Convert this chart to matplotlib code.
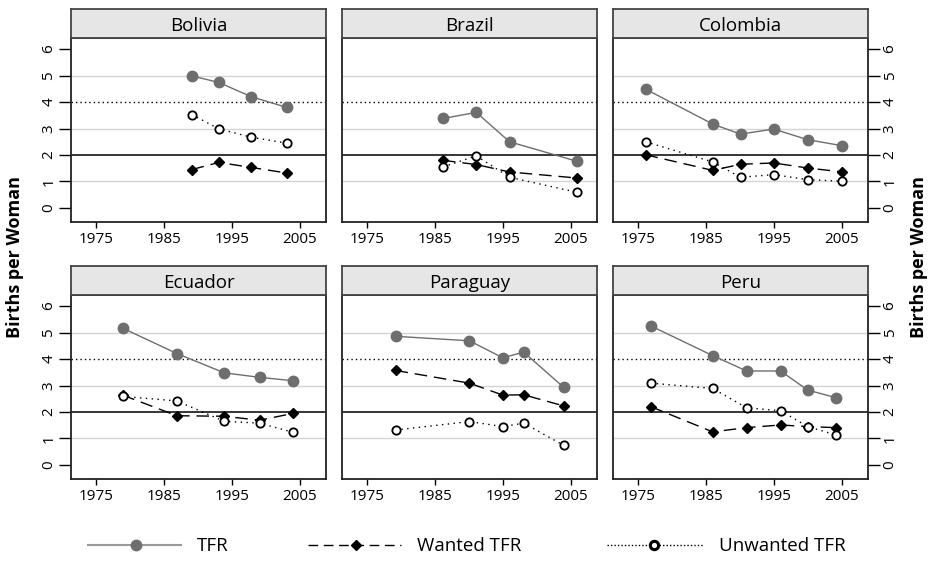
import matplotlib
matplotlib.use("Agg")
import matplotlib.pyplot as plt
from matplotlib.lines import Line2D

plt.rcParams['font.family'] = ['Open Sans', 'DejaVu Sans']

countries = ["Bolivia", "Brazil", "Colombia", "Ecuador", "Paraguay", "Peru"]

years = {
    "Bolivia":  [1989.1, 1993.1, 1997.9, 2003.1],
    "Brazil":   [1986.2, 1991.1, 1996.0, 2006.0],
    "Colombia": [1976.1, 1986.0, 1990.1, 1995.0, 2000.0, 2005.1],
    "Ecuador":  [1978.9, 1986.9, 1993.9, 1999.1, 2004.1],
    "Paraguay": [1979.2, 1990.1, 1995.0, 1998.1, 2004.0],
    "Peru":     [1976.9, 1986.0, 1991.0, 1996.0, 2000.0, 2004.2],
}
tfr = {
    "Bolivia":  [4.99, 4.74, 4.20, 3.80],
    "Brazil":   [3.38, 3.61, 2.50, 1.76],
    "Colombia": [4.49, 3.17, 2.79, 2.98, 2.58, 2.35],
    "Ecuador":  [5.17, 4.21, 3.48, 3.31, 3.18],
    "Paraguay": [4.86, 4.69, 4.05, 4.26, 2.93],
    "Peru":     [5.25, 4.13, 3.55, 3.55, 2.83, 2.54],
}
wanted = {
    "Bolivia":  [1.45, 1.72, 1.53, 1.32],
    "Brazil":   [1.80, 1.64, 1.36, 1.13],
    "Colombia": [2.01, 1.42, 1.65, 1.70, 1.51, 1.36],
    "Ecuador":  [2.64, 1.86, 1.84, 1.69, 1.95],
    "Paraguay": [3.57, 3.09, 2.64, 2.65, 2.23],
    "Peru":     [2.20, 1.25, 1.41, 1.51, 1.45, 1.41],
}
unwanted = {
    "Bolivia":  [3.53, 2.99, 2.67, 2.45],
    "Brazil":   [1.55, 1.97, 1.16, 0.59],
    "Colombia": [2.50, 1.74, 1.16, 1.26, 1.07, 1.01],
    "Ecuador":  [2.59, 2.42, 1.65, 1.58, 1.23],
    "Paraguay": [1.32, 1.64, 1.45, 1.58, 0.74],
    "Peru":     [3.09, 2.89, 2.16, 2.05, 1.45, 1.13],
}
xticks = [1975, 1985, 1995, 2005]
yticks = [0, 1, 2, 3, 4, 5, 6]
legend_labels = ["TFR", "Wanted TFR", "Unwanted TFR"]

W, H = 930, 567
fig = plt.figure(figsize=(W / 100, H / 100), dpi=100)

col_x = [71, 342, 613]
col_w = 255
row_strip_top = [9, 266]
strip_h = 29
plot_h = 184

tfr_color = "#6e6e6e"
frame_color = "#222222"
wanted_ls = (0, (9, 5))
unwanted_ls = (0, (1, 3.2))

for i, c in enumerate(countries):
    r, k = divmod(i, 3)
    x0 = col_x[k]
    ytop = row_strip_top[r] + strip_h
    ax = fig.add_axes([x0 / W, 1 - (ytop + plot_h) / H, col_w / W, plot_h / H])
    ax.set_xlim(1971.3, 2008.9)
    ax.set_ylim(-0.53, 6.42)
    for g in [1, 3, 5]:
        ax.axhline(g, color="#d4d4d4", lw=1.0, zorder=0)
    ax.axhline(2, color="black", lw=1.1, zorder=1)
    ax.axhline(4, color="black", lw=1.0, ls=(0, (1, 2.2)), zorder=1)

    ax.plot(years[c], tfr[c], color=tfr_color, lw=1.0, marker="o", ms=7.5,
            mfc=tfr_color, mec=tfr_color, zorder=3)
    ax.plot(years[c], wanted[c], color="black", lw=1.0, ls=wanted_ls,
            marker="D", ms=4.8, mfc="black", mec="black", zorder=4)
    ax.plot(years[c], unwanted[c], color="black", lw=1.0, ls=unwanted_ls,
            marker="o", ms=6, mfc="white", mec="black", mew=1.3, zorder=5)

    ax.set_xticks(xticks)
    ax.set_xticklabels([str(t) for t in xticks], fontsize=11)
    ax.tick_params(axis="x", length=4.5, width=1, pad=3, colors="black")
    ax.set_yticks(yticks)
    if k == 0:
        ax.yaxis.set_ticks_position("left")
        ax.set_yticklabels([str(t) for t in yticks], fontsize=11, rotation=90, va="center")
        ax.tick_params(axis="y", length=8.5, width=1, pad=2)
    elif k == 2:
        ax.yaxis.set_ticks_position("right")
        ax.set_yticklabels([str(t) for t in yticks], fontsize=11, rotation=90, va="center")
        ax.tick_params(axis="y", length=8.5, width=1, pad=2)
    else:
        ax.tick_params(axis="y", left=False, right=False, labelleft=False)
    for s in ax.spines.values():
        s.set_color(frame_color)
        s.set_linewidth(1.3)

    # strip
    sax = fig.add_axes([x0 / W, 1 - ytop / H, col_w / W, strip_h / H])
    sax.set_xticks([])
    sax.set_yticks([])
    sax.set_facecolor("#e6e6e6")
    for s in sax.spines.values():
        s.set_color("#444444")
        s.set_linewidth(1.3)
    sax.text(0.5, 0.42, c, ha="center", va="center", fontsize=13.5, transform=sax.transAxes)

fig.text(15 / W, 1 - 257 / H, "Births per Woman", rotation=90, ha="center", va="center",
         fontsize=13, fontweight="bold")
fig.text(919 / W, 1 - 257 / H, "Births per Woman", rotation=90, ha="center", va="center",
         fontsize=13, fontweight="bold")

# legend drawn on an overlay axes in pixel units
lax = fig.add_axes([0, 0, 1, 1], facecolor="none")
lax.set_xlim(0, W)
lax.set_ylim(H, 0)
lax.axis("off")
ly = 545
legend_spec = [
    (88, 181, 136, 197,
     dict(color="#9a9a9a", lw=1.5), dict(marker="o", ms=7.5, mfc=tfr_color, mec=tfr_color)),
    (308, 401, 356, 417,
     dict(color="black", lw=1.0, ls=(0, (7, 4))), dict(marker="D", ms=5, mfc="black", mec="black")),
    (607, 704, 654, 719,
     dict(color="black", lw=1.0, ls=(0, (1, 1.5))), dict(marker="o", ms=6, mfc="white", mec="black", mew=2.2)),
]
for (xa, xb, xm, xt, lstyle, mstyle), lab in zip(legend_spec, legend_labels):
    lax.add_line(Line2D([xa, xb], [ly, ly], **lstyle))
    lax.add_line(Line2D([xm], [ly], ls="none", **mstyle))
    lax.text(xt, ly + 1, lab, ha="left", va="center", fontsize=13.5)

fig.savefig("out.png", dpi=100)
